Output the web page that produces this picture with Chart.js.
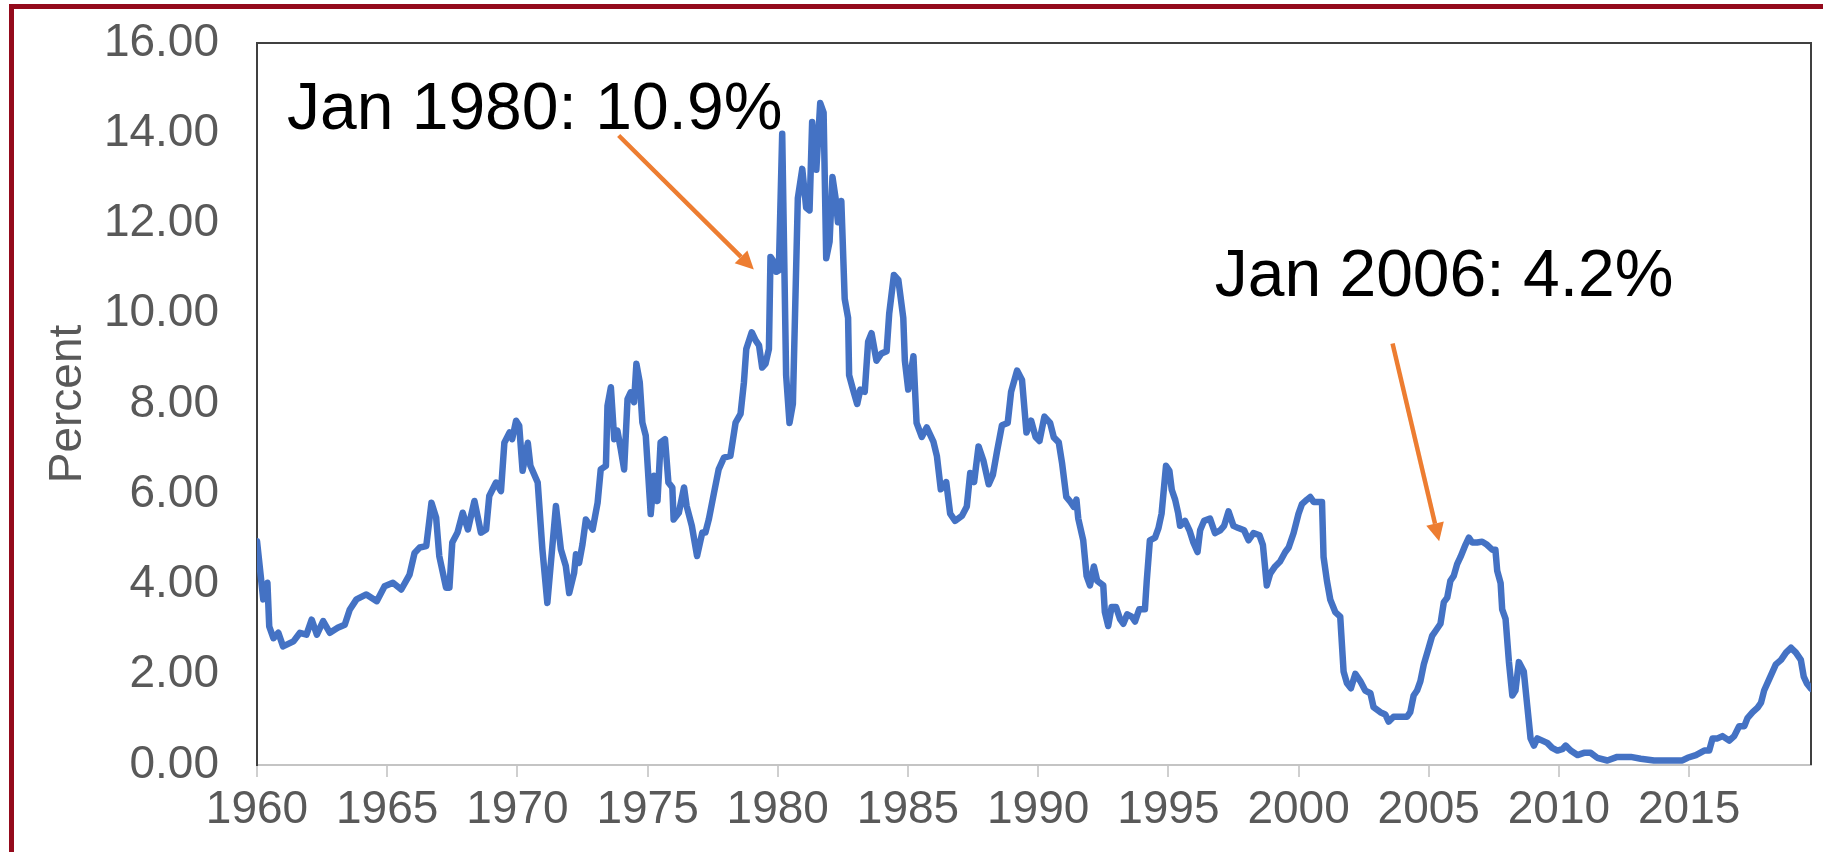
<!DOCTYPE html>
<html>
<head>
<meta charset="utf-8">
<title>Rate, 1960-2019</title>
<script src="https://cdn.jsdelivr.net/npm/chart.js@4.4.1/dist/chart.umd.min.js"></script>
<style>
  html, body { margin: 0; padding: 0; background: #fff; overflow: hidden; }
  #wrap { position: relative; width: 1823px; height: 852px; }
  #frame {
    position: absolute; left: 9px; top: 4px; width: 1900px; height: 900px;
    border-left: 5px solid #940a1c; border-top: 5px solid #940a1c;
    pointer-events: none;
  }
  canvas { position: absolute; left: 0; top: 0; }
</style>
</head>
<body>
<div id="wrap">
  <canvas id="rateChart" width="1823" height="852"></canvas>
  <div id="frame"></div>
</div>
<script>
// readings: decimal year -> percent
const dates = [
  1960.00, 1960.24, 1960.40, 1960.47, 1960.63, 1960.82, 1961.00, 1961.40, 1961.65, 1961.90,
  1962.10, 1962.30, 1962.54, 1962.80, 1963.10, 1963.37, 1963.56, 1963.82, 1964.20, 1964.60,
  1964.90, 1965.22, 1965.54, 1965.86, 1966.05, 1966.25, 1966.50, 1966.70, 1966.88, 1967.00,
  1967.26, 1967.39, 1967.50, 1967.70, 1967.90, 1968.10, 1968.35, 1968.60, 1968.80, 1968.92,
  1969.18, 1969.37, 1969.50, 1969.70, 1969.80, 1969.95, 1970.07, 1970.20, 1970.40, 1970.50,
  1970.78, 1970.96, 1971.15, 1971.48, 1971.67, 1971.86, 1971.99, 1972.18, 1972.25, 1972.37,
  1972.50, 1972.63, 1972.89, 1973.08, 1973.20, 1973.40, 1973.46, 1973.59, 1973.72, 1973.84,
  1973.97, 1974.10, 1974.23, 1974.35, 1974.48, 1974.57, 1974.70, 1974.80, 1974.93, 1975.12,
  1975.25, 1975.38, 1975.50, 1975.67, 1975.80, 1975.95, 1976.00, 1976.20, 1976.40, 1976.50,
  1976.70, 1976.90, 1977.10, 1977.22, 1977.35, 1977.54, 1977.73, 1977.93, 1978.18, 1978.38,
  1978.57, 1978.70, 1978.79, 1979.00, 1979.15, 1979.28, 1979.40, 1979.53, 1979.66, 1979.72,
  1979.85, 1979.94, 1980.04, 1980.17, 1980.32, 1980.45, 1980.58, 1980.77, 1980.94, 1981.09,
  1981.22, 1981.32, 1981.48, 1981.63, 1981.76, 1981.86, 1981.99, 1982.10, 1982.22, 1982.31,
  1982.44, 1982.57, 1982.70, 1982.74, 1982.89, 1983.05, 1983.17, 1983.34, 1983.47, 1983.60,
  1983.79, 1983.98, 1984.18, 1984.28, 1984.46, 1984.63, 1984.82, 1984.88, 1985.01, 1985.21,
  1985.33, 1985.53, 1985.72, 1985.98, 1986.11, 1986.26, 1986.47, 1986.62, 1986.81, 1987.07,
  1987.26, 1987.39, 1987.54, 1987.71, 1987.90, 1988.10, 1988.26, 1988.42, 1988.61, 1988.83,
  1988.96, 1989.19, 1989.38, 1989.55, 1989.73, 1989.90, 1990.05, 1990.24, 1990.46, 1990.60,
  1990.79, 1990.92, 1991.08, 1991.24, 1991.37, 1991.47, 1991.54, 1991.73, 1991.86, 1991.99,
  1992.14, 1992.27, 1992.50, 1992.56, 1992.69, 1992.82, 1992.99, 1993.14, 1993.27, 1993.42,
  1993.59, 1993.72, 1993.88, 1994.10, 1994.17, 1994.29, 1994.49, 1994.62, 1994.74, 1994.91,
  1995.04, 1995.13, 1995.26, 1995.38, 1995.45, 1995.64, 1995.81, 1995.96, 1996.12, 1996.22,
  1996.37, 1996.60, 1996.79, 1996.99, 1997.14, 1997.31, 1997.50, 1997.69, 1997.91, 1998.08,
  1998.27, 1998.50, 1998.63, 1998.78, 1998.91, 1999.10, 1999.29, 1999.49, 1999.62, 1999.81,
  2000.00, 2000.13, 2000.32, 2000.45, 2000.58, 2000.77, 2000.90, 2000.96, 2001.09, 2001.22,
  2001.41, 2001.60, 2001.73, 2001.86, 2002.01, 2002.18, 2002.37, 2002.56, 2002.76, 2002.88,
  2003.14, 2003.33, 2003.46, 2003.65, 2003.91, 2004.17, 2004.29, 2004.42, 2004.55, 2004.68,
  2004.81, 2005.00, 2005.13, 2005.26, 2005.45, 2005.58, 2005.71, 2005.83, 2005.96, 2006.09,
  2006.22, 2006.41, 2006.54, 2006.67, 2006.86, 2007.05, 2007.24, 2007.44, 2007.56, 2007.63,
  2007.76, 2007.82, 2007.95, 2008.08, 2008.21, 2008.33, 2008.46, 2008.65, 2008.78, 2008.91,
  2009.04, 2009.17, 2009.36, 2009.55, 2009.74, 2009.94, 2010.13, 2010.26, 2010.45, 2010.71,
  2010.96, 2011.22, 2011.47, 2011.86, 2012.24, 2012.76, 2013.14, 2013.65, 2014.04, 2014.42,
  2014.74, 2014.94, 2015.26, 2015.58, 2015.77, 2015.90, 2016.09, 2016.28, 2016.54, 2016.73,
  2016.92, 2017.12, 2017.24, 2017.44, 2017.63, 2017.76, 2017.88, 2018.08, 2018.33, 2018.53,
  2018.72, 2018.91, 2019.10, 2019.29, 2019.40, 2019.53, 2019.68
];
const rates = [
  4.96, 3.67, 4.04, 3.07, 2.81, 2.93, 2.63, 2.74, 2.93, 2.89,
  3.22, 2.89, 3.19, 2.93, 3.04, 3.11, 3.44, 3.67, 3.78, 3.63,
  3.96, 4.04, 3.89, 4.22, 4.70, 4.82, 4.85, 5.81, 5.48, 4.63,
  3.93, 3.93, 4.93, 5.15, 5.59, 5.22, 5.85, 5.15, 5.22, 5.96,
  6.26, 6.07, 7.14, 7.37, 7.22, 7.63, 7.52, 6.52, 7.14, 6.63,
  6.26, 4.78, 3.59, 5.74, 4.78, 4.41, 3.81, 4.26, 4.67, 4.48,
  4.89, 5.44, 5.22, 5.81, 6.55, 6.63, 7.96, 8.37, 7.22, 7.41,
  7.00, 6.55, 8.11, 8.26, 8.04, 8.89, 8.48, 7.59, 7.30, 5.56,
  6.41, 5.85, 7.15, 7.22, 6.26, 6.15, 5.44, 5.59, 6.15, 5.74,
  5.30, 4.63, 5.15, 5.15, 5.44, 6.00, 6.55, 6.81, 6.85, 7.59,
  7.78, 8.48, 9.22, 9.59, 9.41, 9.30, 8.81, 8.89, 9.22, 11.26,
  11.15, 10.93, 10.96, 13.99, 8.64, 7.58, 8.00, 12.56, 13.21, 12.35,
  12.29, 14.25, 13.19, 14.67, 14.46, 11.23, 11.60, 13.03, 12.56, 12.03,
  12.50, 10.33, 9.91, 8.64, 8.32, 8.00, 8.32, 8.27, 9.38, 9.57,
  8.96, 9.12, 9.17, 10.01, 10.86, 10.75, 9.91, 8.96, 8.32, 9.06,
  7.58, 7.27, 7.48, 7.16, 6.85, 6.11, 6.27, 5.57, 5.41, 5.52,
  5.73, 6.47, 6.27, 7.06, 6.74, 6.22, 6.43, 6.95, 7.53, 7.58,
  8.27, 8.74, 8.53, 7.37, 7.63, 7.27, 7.18, 7.72, 7.58, 7.26,
  7.15, 6.68, 5.94, 5.83, 5.72, 5.88, 5.46, 4.98, 4.19, 3.98,
  4.40, 4.08, 3.98, 3.39, 3.08, 3.50, 3.50, 3.24, 3.13, 3.34,
  3.29, 3.18, 3.45, 3.45, 4.08, 4.98, 5.04, 5.25, 5.57, 6.63,
  6.52, 6.10, 5.88, 5.57, 5.30, 5.41, 5.20, 4.93, 4.72, 5.20,
  5.41, 5.46, 5.14, 5.20, 5.30, 5.62, 5.30, 5.25, 5.20, 4.98,
  5.14, 5.09, 4.88, 3.98, 4.24, 4.40, 4.51, 4.72, 4.82, 5.14,
  5.57, 5.78, 5.88, 5.94, 5.83, 5.83, 5.83, 4.61, 4.08, 3.66,
  3.39, 3.29, 2.07, 1.81, 1.70, 2.02, 1.86, 1.65, 1.59, 1.28,
  1.17, 1.12, 0.96, 1.07, 1.07, 1.07, 1.17, 1.54, 1.65, 1.86,
  2.23, 2.60, 2.86, 2.97, 3.13, 3.61, 3.71, 4.08, 4.19, 4.45,
  4.61, 4.88, 5.04, 4.93, 4.93, 4.95, 4.88, 4.77, 4.77, 4.30,
  4.03, 3.45, 3.24, 2.28, 1.54, 1.65, 2.28, 2.07, 1.33, 0.59,
  0.43, 0.59, 0.54, 0.49, 0.38, 0.32, 0.35, 0.43, 0.32, 0.22,
  0.27, 0.27, 0.16, 0.10, 0.18, 0.18, 0.14, 0.10, 0.10, 0.10,
  0.10, 0.16, 0.22, 0.32, 0.32, 0.59, 0.59, 0.64, 0.54, 0.64,
  0.86, 0.86, 1.04, 1.17, 1.27, 1.38, 1.65, 1.91, 2.23, 2.33,
  2.49, 2.60, 2.49, 2.33, 1.96, 1.80, 1.69
];
const yTicks = [0, 2, 4, 6, 8, 10, 12, 14, 16];
const xTickStep = 5;

// callouts, placed in data units
const notes = [
  { text: "Jan 1980: 10.9%", at: [1961.15, 14.10], from: [1973.89, 13.95], to: [1979.08, 10.98] },
  { text: "Jan 2006: 4.2%", at: [1996.78, 10.40], from: [2003.61, 9.34], to: [2005.40, 4.96] }
];

const FONT = '"Liberation Sans", Arial, Helvetica, sans-serif';
const GREY_TEXT = "#595959";

const plotFrame = {
  id: "plotFrame",
  beforeDatasetsDraw(chart) {
    const { ctx, chartArea: a } = chart;
    ctx.save();
    ctx.strokeStyle = "#404040";
    ctx.lineWidth = 2;
    ctx.beginPath();
    ctx.moveTo(a.left, a.top);
    ctx.lineTo(a.right, a.top);
    ctx.lineTo(a.right, a.bottom);
    ctx.stroke();
    ctx.restore();
  }
};

const callouts = {
  id: "callouts",
  afterDraw(chart) {
    const { ctx } = chart;
    const xs = chart.scales.x, ys = chart.scales.y;
    ctx.save();
    notes.forEach((n) => {
      ctx.font = "66px " + FONT;
      ctx.fillStyle = "#000";
      ctx.textAlign = "left";
      ctx.textBaseline = "alphabetic";
      ctx.fillText(n.text, xs.getPixelForValue(n.at[0]), ys.getPixelForValue(n.at[1]));

      const x0 = xs.getPixelForValue(n.from[0]), y0 = ys.getPixelForValue(n.from[1]);
      const x1 = xs.getPixelForValue(n.to[0]), y1 = ys.getPixelForValue(n.to[1]);
      const ang = Math.atan2(y1 - y0, x1 - x0);
      const headLen = 18, headHalf = 9;
      const bx = x1 - headLen * Math.cos(ang), by = y1 - headLen * Math.sin(ang);
      ctx.strokeStyle = "#ED7D31";
      ctx.fillStyle = "#ED7D31";
      ctx.lineWidth = 4.5;
      ctx.beginPath();
      ctx.moveTo(x0, y0);
      ctx.lineTo(bx, by);
      ctx.stroke();
      ctx.beginPath();
      ctx.moveTo(x1, y1);
      ctx.lineTo(bx + headHalf * Math.sin(ang), by - headHalf * Math.cos(ang));
      ctx.lineTo(bx - headHalf * Math.sin(ang), by + headHalf * Math.cos(ang));
      ctx.closePath();
      ctx.fill();
    });
    ctx.restore();
  }
};

const ctx = document.getElementById("rateChart").getContext("2d");
new Chart(ctx, {
  type: "line",
  data: {
    datasets: [{
      label: "Percent",
      data: dates.map((d, i) => ({ x: d, y: rates[i] })),
      borderColor: "#4472C4",
      borderWidth: 6.5,
      pointRadius: 0,
      tension: 0,
      fill: false,
      borderJoinStyle: "round",
      borderCapStyle: "round"
    }]
  },
  options: {
    responsive: false,
    animation: false,
    layout: { padding: { top: 43, right: 12, bottom: 0, left: 0 } },
    plugins: { legend: { display: false }, tooltip: { enabled: false } },
    scales: {
      x: {
        type: "linear",
        min: dates[0],
        max: dates[dates.length - 1],
        afterFit(scale) {
          scale.height = 87;
          scale.paddingLeft = 0;
          scale.paddingRight = 0;
        },
        grid: { drawOnChartArea: false, drawTicks: true, tickLength: 12, color: "#CFCFCF", lineWidth: 2 },
        border: { display: true, color: "#C4C4C4", width: 2 },
        ticks: {
          stepSize: xTickStep,
          includeBounds: false,
          autoSkip: false,
          maxRotation: 0,
          padding: 6,
          color: GREY_TEXT,
          font: { family: FONT, size: 46 },
          callback: (v) => String(v)
        }
      },
      y: {
        min: yTicks[0],
        max: yTicks[yTicks.length - 1],
        afterFit(scale) {
          scale.width = 257;
          scale.paddingTop = 0;
          scale.paddingBottom = 0;
        },
        grid: { drawOnChartArea: false, drawTicks: false },
        border: { display: true, color: "#404040", width: 2 },
        ticks: {
          stepSize: yTicks[1] - yTicks[0],
          padding: 38,
          color: GREY_TEXT,
          font: { family: FONT, size: 46 },
          callback: (v) => v.toFixed(2)
        },
        title: {
          display: true,
          text: "Percent",
          color: GREY_TEXT,
          font: { family: FONT, size: 46 },
          padding: { top: 41, bottom: 0 }
        }
      }
    }
  },
  plugins: [plotFrame, callouts]
});
</script>
</body>
</html>
